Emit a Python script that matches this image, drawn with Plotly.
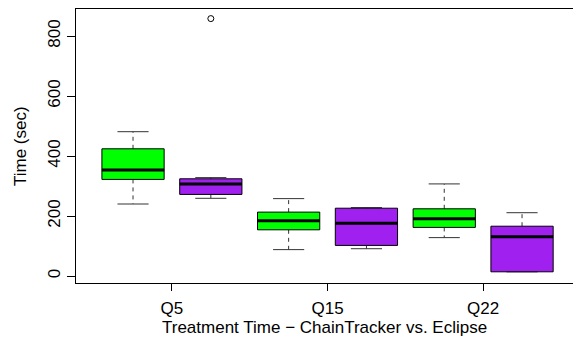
import plotly.graph_objects as go

categories = ["Q5", "Q15", "Q22"]
groups = ["ChainTracker", "Eclipse"]
colors = ["#00FF00", "#A020F0"]

ct_low = [240, 88, 128]
ct_q1 = [322, 154, 162]
ct_med = [353, 184, 191]
ct_q3 = [424, 213, 224]
ct_high = [481, 258, 307]

ec_low = [259, 91, 14]
ec_q1 = [272, 102, 14]
ec_med = [307, 176, 131]
ec_q3 = [324, 226, 166]
ec_high = [328, 228, 211]

outlier_cat = ["Q5"]
outlier_val = [858]

x_title = "Treatment Time − ChainTracker vs. Eclipse"
y_title = "Time (sec)"

stats = [
    (ct_low, ct_q1, ct_med, ct_q3, ct_high),
    (ec_low, ec_q1, ec_med, ec_q3, ec_high),
]

fig = go.Figure()
half = 0.4
cap = 0.2
wcol = "#333333"

for ci, cat in enumerate(categories):
    for gi, g in enumerate(groups):
        p = 2 * ci + 1 + gi
        low, q1, med, q3, high = (s[ci] for s in stats[gi])
        fig.add_trace(go.Scatter(x=[p, p, None, p, p], y=[q3, high, None, q1, low], mode="lines",
                                 line=dict(color=wcol, width=1, dash="4px,4px"), hoverinfo="skip", showlegend=False))
        fig.add_trace(go.Scatter(x=[p - cap, p + cap, None, p - cap, p + cap], y=[high, high, None, low, low],
                                 mode="lines", line=dict(color=wcol, width=1), hoverinfo="skip", showlegend=False))
        fig.add_trace(go.Scatter(x=[p - half, p + half, p + half, p - half, p - half], y=[q1, q1, q3, q3, q1],
                                 mode="lines", fill="toself", fillcolor=colors[gi],
                                 line=dict(color="black", width=1), name=g, showlegend=False))
        fig.add_trace(go.Scatter(x=[p - half, p + half], y=[med, med], mode="lines",
                                 line=dict(color="black", width=3), hoverinfo="skip", showlegend=False))

for c, v in zip(outlier_cat, outlier_val):
    p = 2 * categories.index(c) + 2
    fig.add_trace(go.Scatter(x=[p], y=[v], mode="markers",
                             marker=dict(symbol="circle-open", size=6, color="black", line=dict(width=1)),
                             showlegend=False))

font = "Liberation Sans, Arial, Helvetica, sans-serif"
fs = 17
fig.update_layout(
    width=573, height=350,
    margin=dict(l=76, r=0, t=9, b=67),
    paper_bgcolor="white", plot_bgcolor="white",
    font=dict(family=font, size=fs, color="black"),
    showlegend=False,
    xaxis=dict(range=[0.267, 6.655], tickmode="array", tickvals=[1.5, 3.5, 5.5], ticktext=categories,
               showgrid=False, zeroline=False, showline=True, mirror=True, linecolor="black", linewidth=1,
               ticks="outside", ticklen=7, tickcolor="black", ticklabelstandoff=3,
               tickfont=dict(family=font, size=fs)),
    yaxis=dict(range=[-23.3, 890], tickvals=[0, 200, 400, 600, 800], tickangle=-90,
               showgrid=False, zeroline=False, showline=True, linecolor="black", linewidth=1,
               ticks="outside", ticklen=8, tickcolor="black", ticklabelstandoff=0,
               tickfont=dict(family=font, size=fs)),
    annotations=[
        dict(text=x_title, xref="paper", yref="paper", x=0.501, y=0, yanchor="middle", xanchor="center",
             yshift=-44, showarrow=False, font=dict(family=font, size=fs)),
        dict(text=y_title, xref="paper", yref="paper", x=0, y=0.5, xanchor="center", yanchor="middle",
             xshift=-56, textangle=-90, showarrow=False, font=dict(family=font, size=fs)),
    ],
)

fig.write_html("out.html")
